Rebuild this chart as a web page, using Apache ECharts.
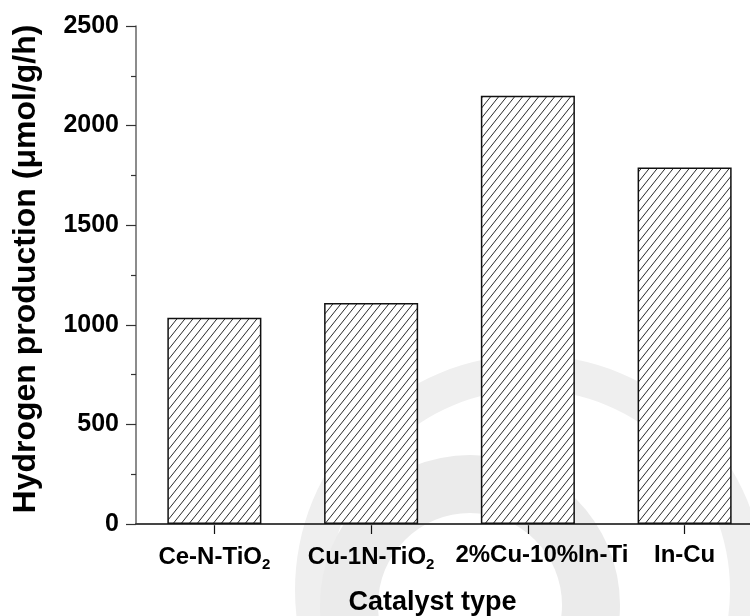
<!DOCTYPE html>
<html>
<head>
<meta charset="utf-8">
<script src="https://cdn.jsdelivr.net/npm/echarts@6/dist/echarts.min.js"></script>
<style>
  html, body { margin: 0; padding: 0; background: #fff; overflow: hidden; }
  /* the plot frame runs slightly past the right edge of the window */
  #chart { width: 780px; height: 616px; }
</style>
</head>
<body>
<div id="chart"></div>
<script>
// Catalysts and their hydrogen production rates (µmol/g/h)
const catalysts = ['Ce-N-TiO{sub|2}', 'Cu-1N-TiO{sub|2}', '2%Cu-10%In-Ti', 'In-Cu'];
const production = [1035, 1110, 2150, 1790];
const yTicks = [0, 500, 1000, 1500, 2000, 2500];

const FONT = '"Liberation Sans", Arial, Helvetica, sans-serif';

// Diagonal hatch fill used for every bar
function hatchPattern() {
  const w = 8, h = 10;
  const c = document.createElement('canvas');
  c.width = w; c.height = h;
  const ctx = c.getContext('2d');
  ctx.fillStyle = '#ffffff';
  ctx.fillRect(0, 0, w, h);
  ctx.strokeStyle = '#2a2a2a';
  ctx.lineWidth = 1;
  ctx.beginPath();
  for (let k = -1; k <= 1; k++) {
    ctx.moveTo(-w + k * w, 2 * h);
    ctx.lineTo(2 * w + k * w, -h);
  }
  ctx.stroke();
  return c;
}

const chart = echarts.init(document.getElementById('chart'), null, { renderer: 'canvas' });

chart.setOption({
  backgroundColor: '#ffffff',
  animation: false,
  graphic: [
    // faint background emblem
    { type: 'ring', z: -10, silent: true,
      shape: { cx: 530, cy: 590, r: 235, r0: 200 },
      style: { fill: '#efefef' } },
    { type: 'ring', z: -10, silent: true,
      shape: { cx: 470, cy: 605, r: 150, r0: 92 },
      style: { fill: '#ebebeb' } }
  ],
  grid: {
    left: 136, top: 26, width: 627, height: 498,
    containLabel: false,
    outerBoundsMode: 'none'
  },
  xAxis: [
    {
      type: 'category',
      data: catalysts,
      position: 'bottom',
      boundaryGap: true,
      name: 'Catalyst type',
      nameLocation: 'middle',
      nameGap: 65,
      nameTextStyle: {
        fontFamily: FONT, fontWeight: 'bold', fontSize: 27, color: '#000',
        padding: [0, 34, 0, 0]
      },
      axisLine: { show: true, lineStyle: { color: '#111', width: 1.5 } },
      axisTick: { show: true, alignWithLabel: true, inside: false, length: 10, lineStyle: { color: '#111', width: 1.2 } },
      axisLabel: {
        interval: 0,
        margin: 19,
        fontFamily: FONT, fontWeight: 'bold', fontSize: 24, color: '#000',
        // the long third label sits a little right of its tick
        formatter: (v, i) => (i === 2 ? '{shift|' + v + '}' : v),
        rich: {
          sub: { fontFamily: FONT, fontWeight: 'bold', fontSize: 15, color: '#000', verticalAlign: 'bottom', padding: [14, 0, 0, 0] },
          shift: { fontFamily: FONT, fontWeight: 'bold', fontSize: 24, color: '#000', padding: [0, 0, 0, 28] }
        }
      },
      splitLine: { show: false }
    },
    {
      type: 'category',
      data: catalysts,
      position: 'top',
      boundaryGap: true,
      axisLine: { show: true, lineStyle: { color: '#444', width: 1.5 } },
      axisTick: { show: true, alignWithLabel: true, inside: true, length: 2, lineStyle: { color: '#444' } },
      axisLabel: { show: false },
      splitLine: { show: false }
    }
  ],
  yAxis: [
    {
      type: 'value',
      min: yTicks[0],
      max: yTicks[yTicks.length - 1],
      interval: 500,
      position: 'left',
      name: 'Hydrogen production (\u03bcmol/g/h)',
      nameLocation: 'middle',
      nameGap: 94,
      nameRotate: 90,
      nameTextStyle: { fontFamily: FONT, fontWeight: 'bold', fontSize: 32, color: '#000', padding: [0, 0, 0, 12] },
      axisLine: { show: true, lineStyle: { color: '#666', width: 1.5 } },
      axisTick: { show: true, inside: false, length: 10, lineStyle: { color: '#333', width: 1.2 } },
      minorTick: { show: true, splitNumber: 2, length: 5, lineStyle: { color: '#333', width: 1.2 } },
      axisLabel: {
        margin: 17,
        fontFamily: FONT, fontWeight: 'bold', fontSize: 25, color: '#000',
        formatter: v => String(v)
      },
      splitLine: { show: false }
    },
    {
      type: 'value',
      min: yTicks[0],
      max: yTicks[yTicks.length - 1],
      interval: 500,
      position: 'right',
      axisLine: { show: true, lineStyle: { color: '#444', width: 1.5 } },
      axisTick: { show: false },
      axisLabel: { show: false },
      splitLine: { show: false }
    }
  ],
  series: [
    {
      type: 'bar',
      xAxisIndex: 0,
      yAxisIndex: 0,
      data: production,
      barCategoryGap: '40%',
      itemStyle: {
        color: { image: hatchPattern(), repeat: 'repeat' },
        borderColor: '#111',
        borderWidth: 1.5
      }
    }
  ]
});
</script>
</body>
</html>
